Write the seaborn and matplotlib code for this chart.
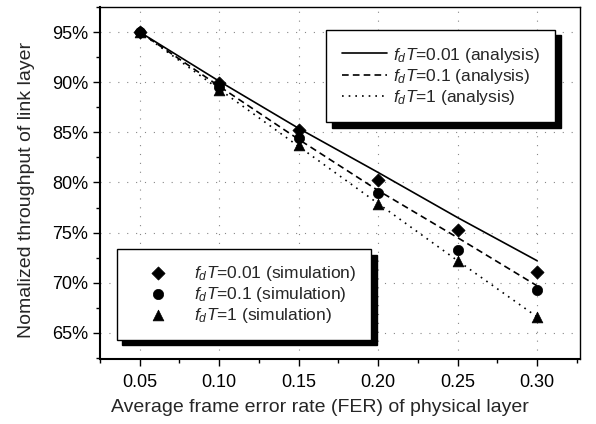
import matplotlib
matplotlib.use("Agg")
import matplotlib.pyplot as plt
import seaborn as sns
import pandas as pd
import numpy as np
from matplotlib.ticker import MultipleLocator, FuncFormatter

fer = [0.05, 0.10, 0.15, 0.20, 0.25, 0.30]
ana_001 = [95.0, 90.1, 85.4, 81.0, 76.5, 72.2]
ana_01 = [95.0, 89.6, 84.3, 79.2, 74.5, 69.7]
ana_1 = [95.0, 89.3, 83.6, 77.9, 72.2, 66.6]
sim_001 = [95.0, 89.9, 85.2, 80.2, 75.3, 71.1]
sim_01 = [95.0, 89.5, 84.4, 79.0, 73.3, 69.3]
sim_1 = [95.0, 89.2, 83.7, 77.9, 72.2, 66.6]

ana_labels = [r"$f_dT$=0.01 (analysis)", r"$f_dT$=0.1 (analysis)", r"$f_dT$=1 (analysis)"]
sim_labels = [r"$f_dT$=0.01 (simulation)", r"$f_dT$=0.1 (simulation)", r"$f_dT$=1 (simulation)"]

sns.set_theme(style="ticks")
plt.rcParams["font.family"] = ["Liberation Sans", "DejaVu Sans"]
plt.rcParams["mathtext.fontset"] = "custom"
plt.rcParams["mathtext.it"] = "Liberation Sans:italic"
plt.rcParams["mathtext.rm"] = "Liberation Sans"

fig = plt.figure(figsize=(5.96, 4.24), dpi=100)
ax = fig.add_axes([100/596, 1-359/424, 480/596, 352/424])

ana_df = pd.concat([
    pd.DataFrame({"fer": fer, "thr": v, "series": lab})
    for v, lab in zip([ana_001, ana_01, ana_1], ana_labels)
])
sim_df = pd.concat([
    pd.DataFrame({"fer": fer, "thr": v, "series": lab})
    for v, lab in zip([sim_001, sim_01, sim_1], sim_labels)
])

styles = ["-", (0, (4, 2.5)), (0, (1, 3))]
for (lab, ls) in zip(ana_labels, styles):
    d = ana_df[ana_df.series == lab]
    sns.lineplot(data=d, x="fer", y="thr", ax=ax, color="black", lw=1.2,
                 linestyle=ls, label=lab, legend=False)
lines = ax.get_lines()[:3]

markers = ["D", "o", "^"]
sizes = [45, 55, 60]
scats = []
for lab, m, s in zip(sim_labels, markers, sizes):
    d = sim_df[sim_df.series == lab]
    sns.scatterplot(data=d, x="fer", y="thr", ax=ax, color="black", marker=m,
                    s=s, edgecolor="black", linewidth=0.5, legend=False, zorder=5)
    scats.append(ax.collections[-1])

ax.set_xlim(0.025, 0.327)
ax.set_ylim(62.4, 97.5)
ax.xaxis.set_major_locator(MultipleLocator(0.05))
ax.xaxis.set_minor_locator(MultipleLocator(0.025))
ax.yaxis.set_major_locator(MultipleLocator(5))
ax.yaxis.set_minor_locator(MultipleLocator(2.5))
ax.xaxis.set_major_formatter(FuncFormatter(lambda v, p: f"{v:.2f}"))
ax.yaxis.set_major_formatter(FuncFormatter(lambda v, p: f"{v:.0f}%"))
ax.tick_params(axis="both", which="major", direction="out", length=5, width=1,
               labelsize=13, color="black", labelcolor="black")
ax.tick_params(axis="x", which="major", pad=6)
ax.tick_params(axis="both", which="minor", direction="out", length=3, width=1, color="black")
for sp in ax.spines.values():
    sp.set_visible(True)
    sp.set_color("black")
    sp.set_linewidth(1.0)
ax.spines["left"].set_linewidth(1.5)
ax.spines["bottom"].set_linewidth(1.5)

ax.grid(True, which="major", color="#888888", linestyle=(0, (1, 7)), linewidth=0.8)

ax.set_xlabel("Average frame error rate (FER) of physical layer", fontsize=14)
ax.set_ylabel("Nomalized throughput of link layer", fontsize=14)
ax.xaxis.set_label_coords(0.458, -0.115)
ax.yaxis.set_label_coords(-0.135, 0.48)

shadow = {"ox": 4, "oy": -4, "color": "black", "alpha": 1}
leg1 = ax.legend(lines, ana_labels, loc="upper left", bbox_to_anchor=(0.471, 0.935),
                 frameon=True, fancybox=False, shadow=shadow, fontsize=12.5,
                 handlelength=2.6, handletextpad=0.35, borderpad=0.9, labelspacing=0.12,
                 edgecolor="black", framealpha=1, borderaxespad=0)
leg1.get_frame().set_linewidth(1.0)
ax.add_artist(leg1)

leg2 = ax.legend(scats, sim_labels, loc="upper left", bbox_to_anchor=(0.035, 0.3125),
                 frameon=True, fancybox=False, shadow=shadow, fontsize=12.5,
                 handlelength=3.1, handletextpad=0.5, borderpad=0.85, labelspacing=0.12,
                 edgecolor="black", framealpha=1, borderaxespad=0)
leg2.get_frame().set_linewidth(1.0)

fig.savefig("out.png", dpi=100)
